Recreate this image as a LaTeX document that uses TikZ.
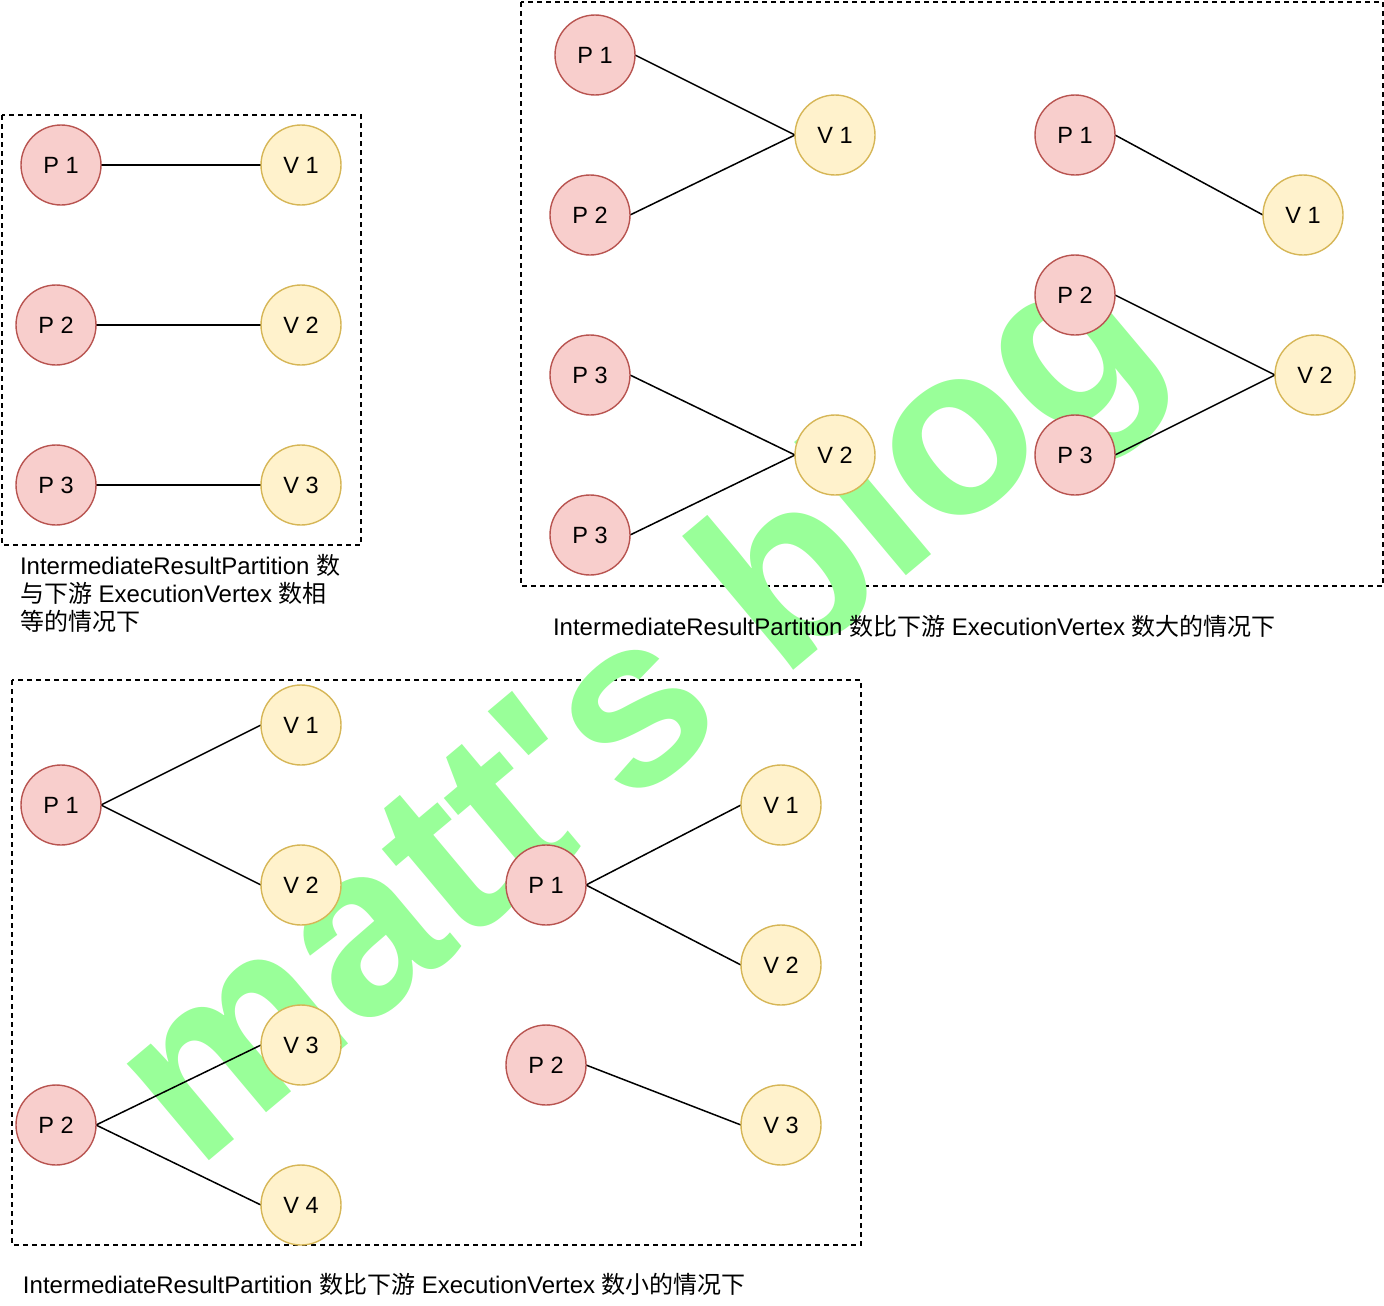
\documentclass[tikz,border=0pt]{standalone}
\usepackage{fontspec}
\setmainfont{Liberation Sans}
\newfontfamily\cjk{Noto Sans CJK SC}
\newfontfamily\nodefont{Liberation Sans}[WordSpace=1.4]
\newfontfamily\wmfont{Liberation Sans}[Ligatures=TeXOff]
\definecolor{pfill}{HTML}{F8CECC}
\definecolor{pstroke}{HTML}{B85450}
\definecolor{vfill}{HTML}{FFF2CC}
\definecolor{vstroke}{HTML}{D6B656}
\definecolor{wmgreen}{HTML}{99FF99}
\pgfdeclarelayer{boxlayer}
\pgfdeclarelayer{wmlayer}
\pgfdeclarelayer{edgelayer}
\pgfsetlayers{boxlayer,wmlayer,edgelayer,main}
\begin{document}
\begin{tikzpicture}[x=1pt,y=-1pt,
  pnode/.style={circle, draw=pstroke, fill=pfill, line width=1.4pt, minimum size=80pt, inner sep=0pt, outer sep=0pt, font=\nodefont\fontsize{23.5}{23.5}\selectfont},
  vnode/.style={circle, draw=vstroke, fill=vfill, line width=1.4pt, minimum size=80pt, inner sep=0pt, outer sep=0pt, font=\nodefont\fontsize{23.5}{23.5}\selectfont},
  link/.style={draw=black, line width=1.5pt},
  frame/.style={draw=black, line width=1.4pt, dash pattern=on 5pt off 4pt},
  capt/.style={anchor=base west, inner sep=0pt, outer sep=0pt, font=\fontsize{24}{28}\selectfont},
]
\useasboundingbox (0,0) rectangle (1384,1306);

% frames
\begin{pgfonlayer}{boxlayer}
\draw[frame] (2,115) rectangle (361,545);
\draw[frame] (521,2) rectangle (1383,586);
\draw[frame] (12,680) rectangle (861,1245);
\end{pgfonlayer}

% watermark
\begin{pgfonlayer}{wmlayer}
\node[anchor=base west, inner sep=0pt, rotate=40, text=wmgreen, font=\wmfont\bfseries\fontsize{240}{240}\selectfont] (wm) at (196,1172) {matt's blog};
\end{pgfonlayer}

% box 1: equal
\node[pnode] (p11) at (61,165) {P 1};
\node[vnode] (v11) at (301,165) {V 1};
\node[pnode] (p12) at (56,325) {P 2};
\node[vnode] (v12) at (301,325) {V 2};
\node[pnode] (p13) at (56,485) {P 3};
\node[vnode] (v13) at (301,485) {V 3};

% box 2: more partitions
\node[pnode] (ap1) at (595,55) {P 1};
\node[pnode] (ap2) at (590,215) {P 2};
\node[vnode] (av1) at (835,135) {V 1};
\node[pnode] (bp3a) at (590,375) {P 3};
\node[pnode] (bp3b) at (590,535) {P 3};
\node[vnode] (bv2) at (835,455) {V 2};
\node[pnode] (cp1) at (1075,135) {P 1};
\node[vnode] (cv1) at (1303,215) {V 1};
\node[pnode] (dp2) at (1075,295) {P 2};
\node[pnode] (dp3) at (1075,455) {P 3};
\node[vnode] (dv2) at (1315,375) {V 2};

% box 3: fewer partitions
\node[vnode] (ev1) at (301,725) {V 1};
\node[pnode] (ep1) at (61,805) {P 1};
\node[vnode] (ev2) at (301,885) {V 2};
\node[vnode] (fv3) at (301,1045) {V 3};
\node[pnode] (fp2) at (56,1125) {P 2};
\node[vnode] (fv4) at (301,1205) {V 4};
\node[vnode] (gv1) at (781,805) {V 1};
\node[pnode] (gp1) at (546,885) {P 1};
\node[vnode] (gv2) at (781,965) {V 2};
\node[pnode] (hp2) at (546,1065) {P 2};
\node[vnode] (hv3) at (781,1125) {V 3};

\begin{pgfonlayer}{edgelayer}
\draw[link] (p11.east) -- (v11.west);
\draw[link] (p12.east) -- (v12.west);
\draw[link] (p13.east) -- (v13.west);
\draw[link] (ap1.east) -- (av1.west);
\draw[link] (ap2.east) -- (av1.west);
\draw[link] (bp3a.east) -- (bv2.west);
\draw[link] (bp3b.east) -- (bv2.west);
\draw[link] (cp1.east) -- (cv1.west);
\draw[link] (dp2.east) -- (dv2.west);
\draw[link] (dp3.east) -- (dv2.west);
\draw[link] (ep1.east) -- (ev1.west);
\draw[link] (ep1.east) -- (ev2.west);
\draw[link] (fp2.east) -- (fv3.west);
\draw[link] (fp2.east) -- (fv4.west);
\draw[link] (gp1.east) -- (gv1.west);
\draw[link] (gp1.east) -- (gv2.west);
\draw[link] (hp2.east) -- (hv3.west);
\end{pgfonlayer}

% captions
\node[capt] (cap1a) at (20,574) {IntermediateResultPartition {\cjk 数}};
\node[capt] (cap1b) at (20,602) {{\cjk 与下游} ExecutionVertex {\cjk 数相}};
\node[capt] (cap1c) at (20,630) {{\cjk 等的情况下}};
\node[capt] (cap2) at (553,635) {IntermediateResultPartition {\cjk 数比下游} ExecutionVertex {\cjk 数大的情况下}};
\node[capt] (cap3) at (23,1293) {IntermediateResultPartition {\cjk 数比下游} ExecutionVertex {\cjk 数小的情况下}};
\end{tikzpicture}
\end{document}
